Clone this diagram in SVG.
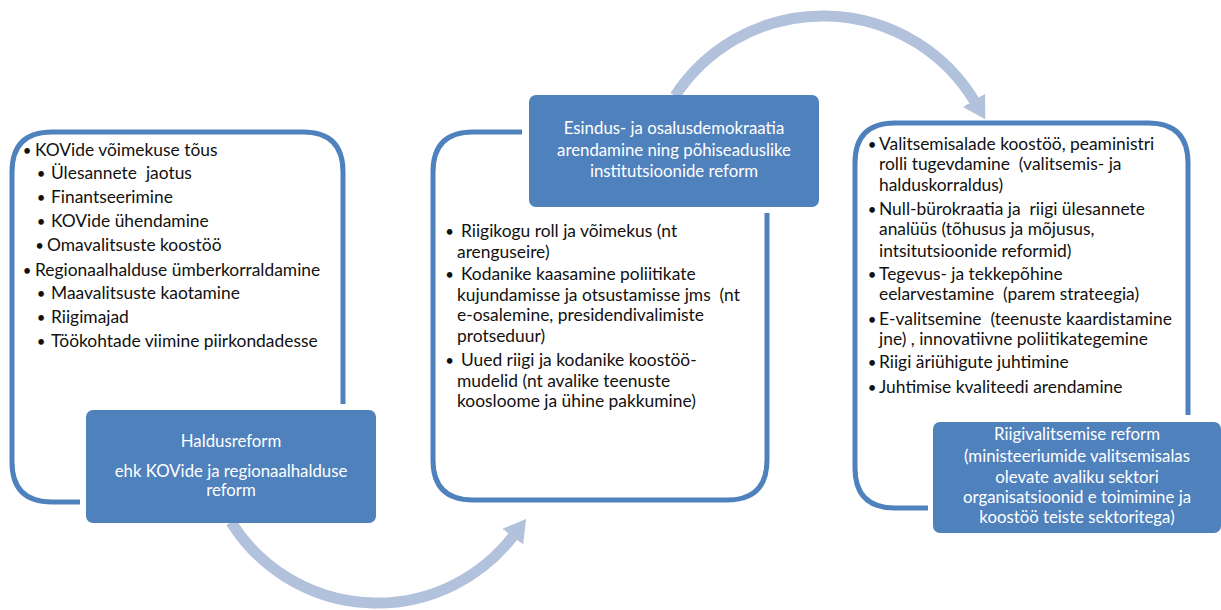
<svg xmlns="http://www.w3.org/2000/svg" width="1221" height="610" viewBox="0 0 1221 610">
<style>
.frame{fill:none;stroke:#4F81BD;stroke-width:5;stroke-linecap:butt}
.box{fill:#4F81BD}
.arc{fill:none;stroke:#B3C2DC;stroke-width:11}
text{font-family:Lato,"Open Sans",sans-serif;white-space:pre}
.t{fill:#111;font-size:17.4px}
.b{fill:#111;font-size:15px;text-anchor:middle}
.w{fill:#fff;text-anchor:middle;font-size:16.8px}
</style>
<defs>
<marker id="ah" markerUnits="userSpaceOnUse" markerWidth="24" markerHeight="28" refX="2" refY="13" orient="auto">
<path d="M0,0 L22,13 L0,26 z" fill="#B3C2DC"/>
</marker>
</defs>
<rect width="1221" height="610" fill="#fff"/>
<g id="connectors">
<path class="arc" d="M 231 522 A 172 172 0 0 0 514 535" marker-end="url(#ah)"/>
<path class="arc" d="M 675 96 A 177 177 0 0 1 975 102" marker-end="url(#ah)"/>
</g>
<g id="haldusreform">
<path class="frame" d="M 80 502 L 52 502 Q 12 502 12 462 L 12 172 Q 12 132 52 132 L 303 132 Q 343 132 343 172 L 343 404"/>
<text class="b" x="27" y="156">•</text><text class="t" x="35" y="156">KOVide võimekuse tõus</text>
<text class="b" x="41" y="179">•</text><text class="t" x="51" y="179">Ülesannete  jaotus</text>
<text class="b" x="41" y="203">•</text><text class="t" x="51" y="203">Finantseerimine</text>
<text class="b" x="41" y="227">•</text><text class="t" x="51" y="227">KOVide ühendamine</text>
<text class="b" x="39.5" y="251">•</text><text class="t" x="47" y="251">Omavalitsuste koostöö</text>
<text class="b" x="27" y="276">•</text><text class="t" x="35" y="276">Regionaalhalduse ümberkorraldamine</text>
<text class="b" x="41" y="299">•</text><text class="t" x="51" y="299">Maavalitsuste kaotamine</text>
<text class="b" x="41" y="323">•</text><text class="t" x="51" y="323">Riigimajad</text>
<text class="b" x="41" y="347">•</text><text class="t" x="51" y="347">Töökohtade viimine piirkondadesse</text>
<rect class="box" x="86" y="410" width="290" height="113" rx="7"/>
<text class="w" x="231" y="447">Haldusreform</text>
<text class="w" x="231" y="477">ehk KOVide ja regionaalhalduse</text>
<text class="w" x="231" y="496">reform</text>
</g>
<g id="esindus">
<path class="frame" d="M 522 132 L 473 132 Q 433 132 433 172 L 433 460 Q 433 500 473 500 L 727 500 Q 767 500 767 460 L 767 213"/>
<rect class="box" x="529" y="95" width="290" height="112" rx="7"/>
<text class="w" x="674" y="134">Esindus- ja osalusdemokraatia</text>
<text class="w" x="674" y="156">arendamine ning põhiseaduslike</text>
<text class="w" x="674" y="177">institutsioonide reform</text>
<text class="b" x="449.5" y="237">•</text><text class="t" x="461" y="237">Riigikogu roll ja võimekus (nt</text>
<text class="t" x="457" y="258">arenguseire)</text>
<text class="b" x="449.5" y="280">•</text><text class="t" x="461" y="280">Kodanike kaasamine poliitikate</text>
<text class="t" x="457" y="301">kujundamisse ja otsustamisse jms  (nt</text>
<text class="t" x="457" y="321">e-osalemine, presidendivalimiste</text>
<text class="t" x="457" y="342">protseduur)</text>
<text class="b" x="449.5" y="366">•</text><text class="t" x="461" y="366">Uued riigi ja kodanike koostöö-</text>
<text class="t" x="457" y="387">mudelid (nt avalike teenuste</text>
<text class="t" x="457" y="407">koosloome ja ühine pakkumine)</text>
</g>
<g id="riigivalitsemine">
<path class="frame" d="M 928 508 L 895 508 Q 855 508 855 468 L 855 163 Q 855 123 895 123 L 1148 123 Q 1188 123 1188 163 L 1188 415"/>
<text class="b" x="872" y="150">•</text><text class="t" x="879" y="150">Valitsemisalade koostöö, peaministri</text>
<text class="t" x="879" y="170">rolli tugevdamine  (valitsemis- ja</text>
<text class="t" x="879" y="191">halduskorraldus)</text>
<text class="b" x="872" y="215">•</text><text class="t" x="879" y="215">Null-bürokraatia ja  riigi ülesannete</text>
<text class="t" x="879" y="235">analüüs (tõhusus ja mõjusus,</text>
<text class="t" x="879" y="257">intsitutsioonide reformid)</text>
<text class="b" x="872" y="280">•</text><text class="t" x="879" y="280">Tegevus- ja tekkepõhine</text>
<text class="t" x="879" y="300">eelarvestamine  (parem strateegia)</text>
<text class="b" x="872" y="325">•</text><text class="t" x="879" y="325">E-valitsemine  (teenuste kaardistamine</text>
<text class="t" x="879" y="345">jne) , innovatiivne poliitikategemine</text>
<text class="b" x="872" y="368">•</text><text class="t" x="879" y="368">Riigi äriühigute juhtimine</text>
<text class="b" x="872" y="393">•</text><text class="t" x="879" y="393">Juhtimise kvaliteedi arendamine</text>
<rect class="box" x="933" y="422" width="288" height="111" rx="7"/>
<text class="w" x="1077" y="440">Riigivalitsemise reform</text>
<text class="w" x="1077" y="462">(ministeeriumide valitsemisalas</text>
<text class="w" x="1077" y="483">olevate avaliku sektori</text>
<text class="w" x="1077" y="503">organisatsioonid e toimimine ja</text>
<text class="w" x="1077" y="523">koostöö teiste sektoritega)</text>
</g>
</svg>
